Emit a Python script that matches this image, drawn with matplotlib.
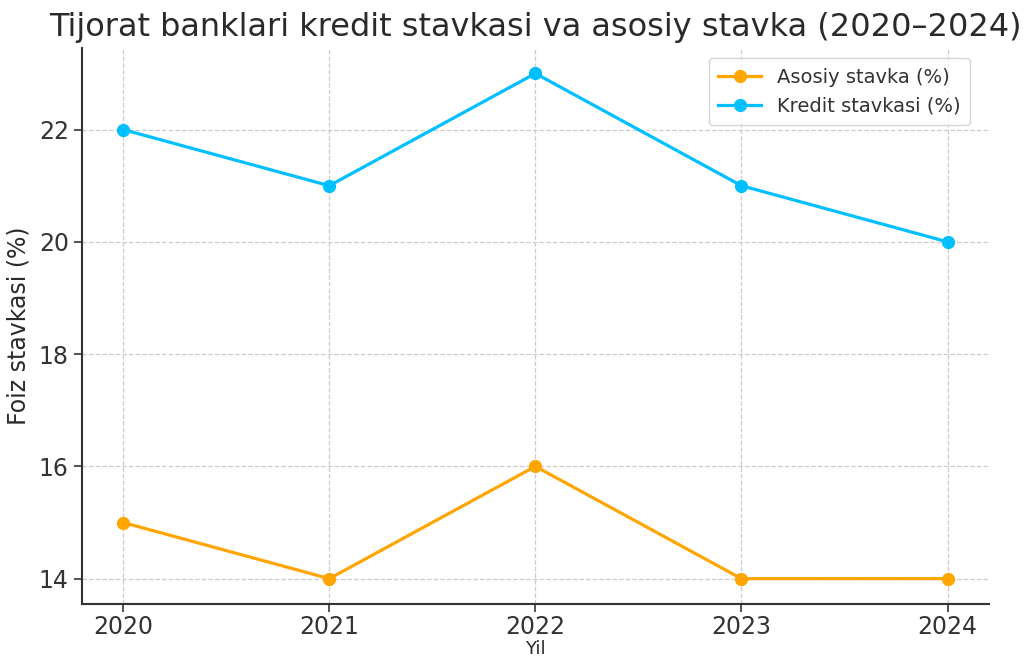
import matplotlib.pyplot as plt

# --- Dati ---
years = [2020, 2021, 2022, 2023, 2024]
asosiy = [15, 14, 16, 14, 14]
kredit = [22, 21, 23, 21, 20]

fig = plt.figure(figsize=(10.31, 6.6), dpi=100)
ax = fig.add_axes([0.0795, 0.085, 0.8795, 0.842])

ax.plot(years, asosiy, "o-", color="#FFA500", lw=2.3, ms=8.5, label="Asosiy stavka (%)")
ax.plot(years, kredit, "o-", color="#00BFFF", lw=2.3, ms=8.5, label="Kredit stavkasi (%)")

ax.set_title("Tijorat banklari kredit stavkasi va asosiy stavka (2020–2024)",
             fontsize=23, color="#2a2a2a", pad=9)
ax.set_xlabel("Yil", fontsize=13, color="#2a2a2a", va="bottom")
ax.xaxis.set_label_coords(0.5, -0.098)
ax.set_ylabel("Foiz stavkasi (%)", fontsize=17, color="#2a2a2a", labelpad=6)
ax.set_xticks(years)
ax.set_yticks([14, 16, 18, 20, 22])
ax.tick_params(labelsize=17, length=6, width=1.2, colors="#333333")
ax.tick_params(axis="x", pad=2)
ax.grid(True, ls="--", color="#cccccc", lw=0.9)

for s in ["top", "right"]:
    ax.spines[s].set_visible(False)
for s in ["left", "bottom"]:
    ax.spines[s].set_linewidth(1.5)
    ax.spines[s].set_color("#333333")

leg = ax.legend(loc="upper right", fontsize=14, frameon=True, edgecolor="#cccccc",
                borderpad=0.5, handlelength=2.2, bbox_to_anchor=(0.99, 1.0))
for t in leg.get_texts():
    t.set_color("#333333")

fig.savefig("out.png", dpi=100)
